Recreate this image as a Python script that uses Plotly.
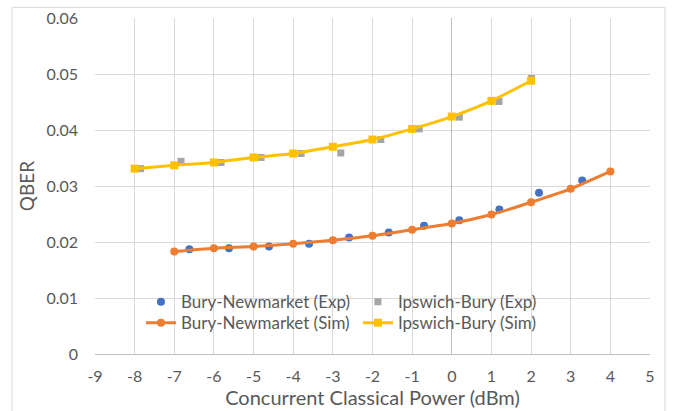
import plotly.graph_objects as go

# ---- data ----
bn_exp_x = [-6.62, -5.62, -4.61, -3.60, -2.59, -1.59, -0.70, 0.19, 1.20, 2.20, 3.29]
bn_exp_y = [0.0187, 0.0189, 0.0192, 0.0197, 0.0208, 0.0217, 0.0229, 0.0239, 0.0258, 0.0288, 0.0310]

ib_exp_x = [-7.85, -6.83, -5.82, -4.81, -3.80, -2.80, -1.79, -0.82, 0.19, 1.19, 2.01]
ib_exp_y = [0.0331, 0.0344, 0.0342, 0.0351, 0.0358, 0.0359, 0.0383, 0.0402, 0.0423, 0.0451, 0.0492]

bn_sim_x = [-7, -6, -5, -4, -3, -2, -1, 0, 1, 2, 3, 4]
bn_sim_y = [0.0183, 0.0189, 0.0192, 0.0197, 0.0203, 0.0211, 0.0222, 0.0233, 0.0249, 0.0271, 0.0295, 0.0326]

ib_sim_x = [-8, -7, -6, -5, -4, -3, -2, -1, 0, 1, 2]
ib_sim_y = [0.0331, 0.0337, 0.0342, 0.0351, 0.0358, 0.0370, 0.0383, 0.0402, 0.0424, 0.0452, 0.0488]

x_tick_vals = [-9, -8, -7, -6, -5, -4, -3, -2, -1, 0, 1, 2, 3, 4, 5]
x_tick_labels = ["-9", "-8", "-7", "-6", "-5", "-4", "-3", "-2", "-1", "0", "1", "2", "3", "4", "5"]
y_tick_vals = [0, 0.01, 0.02, 0.03, 0.04, 0.05, 0.06]
y_tick_labels = ["0", "0.01", "0.02", "0.03", "0.04", "0.05", "0.06"]

BLUE = "#4472C4"
GRAY = "#A5A5A5"
ORANGE = "#ED7D31"
YELLOW = "#FFC000"
TXT = "#595959"
GRID = "#D9D9D9"
FONT = "Lato"

fig = go.Figure()
fig.add_trace(go.Scatter(x=bn_exp_x, y=bn_exp_y, mode="markers", name="Bury-Newmarket (Exp)",
                         marker=dict(symbol="circle", size=8, color=BLUE), legend="legend"))
fig.add_trace(go.Scatter(x=ib_exp_x, y=ib_exp_y, mode="markers", name="Ipswich-Bury (Exp)",
                         marker=dict(symbol="square", size=7, color=GRAY), legend="legend"))
fig.add_trace(go.Scatter(x=bn_sim_x, y=bn_sim_y, mode="lines+markers", name="Bury-Newmarket (Sim)",
                         line=dict(color=ORANGE, width=3, shape="spline", smoothing=0.6),
                         marker=dict(symbol="circle", size=8, color=ORANGE), legend="legend2"))
fig.add_trace(go.Scatter(x=ib_sim_x, y=ib_sim_y, mode="lines+markers", name="Ipswich-Bury (Sim)",
                         line=dict(color=YELLOW, width=3, shape="spline", smoothing=0.6),
                         marker=dict(symbol="square", size=8, color=YELLOW), legend="legend2"))

W, H = 676, 411
L, R, T, B = 95, 25.5, 17.7, 57.3
pw, ph = W - L - R, H - T - B

def px_x(p):
    return (p - L) / pw

def px_y(p):
    return (H - B - p) / ph

leg_common = dict(orientation="h", bgcolor="rgba(0,0,0,0)", borderwidth=0, xanchor="left", yanchor="middle",
                  font=dict(family=FONT, size=17, color=TXT), entrywidth=172, entrywidthmode="pixels",
                  itemclick=False)

fig.update_layout(
    width=W, height=H,
    margin=dict(l=L, r=R, t=T, b=B, autoexpand=False),
    paper_bgcolor="white", plot_bgcolor="white",
    font=dict(family=FONT, color=TXT),
    legend=dict(x=px_x(141), y=px_y(302), **leg_common),
    legend2=dict(x=px_x(141), y=px_y(323), **leg_common),
    xaxis=dict(range=[-9, 5], tickvals=x_tick_vals, ticktext=x_tick_labels,
               showgrid=True, gridcolor=GRID, gridwidth=1,
               zeroline=True, zerolinecolor="#BFBFBF", zerolinewidth=1,
               showline=True, linecolor="#BFBFBF", linewidth=1,
               ticks="", ticklabelstandoff=8, automargin=False,
               tickfont=dict(family=FONT, size=16, color=TXT),
               title=dict(text="Concurrent Classical Power (dBm)", standoff=3,
                          font=dict(family=FONT, size=20, color=TXT))),
    yaxis=dict(range=[0, 0.06], tickvals=y_tick_vals, ticktext=y_tick_labels,
               showgrid=True, gridcolor=GRID, gridwidth=1,
               zeroline=False, showline=False,
               ticks="", ticklabelstandoff=16, automargin=False,
               tickfont=dict(family=FONT, size=16, color=TXT),
               title=dict(text="QBER", standoff=6,
                          font=dict(family=FONT, size=19, color=TXT))),
    shapes=[
        dict(type="rect", xref="paper", yref="paper",
             x0=px_x(12), x1=px_x(665.5), y0=px_y(430), y1=px_y(7),
             line=dict(color=GRID, width=1), fillcolor="rgba(0,0,0,0)", layer="below"),
        dict(type="rect", xref="paper", yref="paper",
             x0=px_x(140), x1=px_x(570), y0=px_y(337), y1=px_y(288),
             line=dict(width=0), fillcolor="white", layer="between"),
    ],
    showlegend=True,
)

fig.write_html("out.html", config={"displayModeBar": False},
               post_script="document.body.style.margin='0';document.body.style.overflow='hidden';")
